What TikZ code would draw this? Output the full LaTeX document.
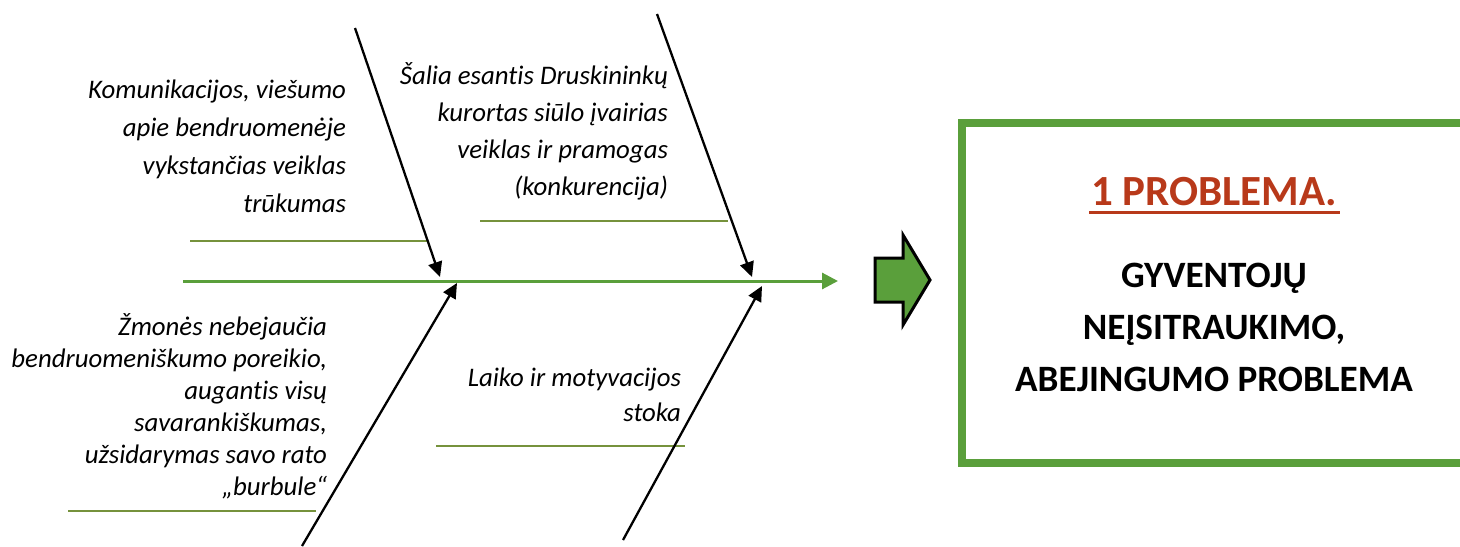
\documentclass[tikz,border=0pt]{standalone}
\usepackage{fontspec}
\setmainfont{Carlito}[Ligatures=NoCommon]
\usetikzlibrary{arrows.meta}
\usetikzlibrary{positioning}
\usetikzlibrary{calc}
\definecolor{spinegreen}{HTML}{5A9F3B}
\definecolor{rulegreen}{HTML}{76923C}
\definecolor{titlered}{HTML}{B8391A}
\newcommand{\causenode}[4]{\node(#1)[cause, font=\fontsize{13.4}{#2}\selectfont\itshape] at (#3) {#4}}
\newcommand{\causerule}[3]{\draw[rule] (#2,#1) -- (#3,#1)}

\begin{document}
\begin{tikzpicture}[
        x=0.5pt, y=-0.5pt,
        every node/.style={inner sep=0pt, outer sep=0pt},
        cause/.style={anchor=north east, align=right},
        bone/.style={draw=black, line width=1.15pt, -{Triangle[length=7.5pt,width=7pt]}},
        spine/.style={draw=spinegreen, line width=1.5pt, -{Triangle[length=8pt,width=8pt]}},
        rule/.style={draw=rulegreen, line width=0.7pt},
        bigarrow/.style={draw=black, fill=spinegreen, line width=1.5pt, line join=miter},
        problem/.style={rectangle, draw=spinegreen, line width=4pt,
                        minimum width=270pt, minimum height=170pt}
      ]
      \useasboundingbox (0,0) rectangle (1460,546);

      % causes
      \causenode{comm}{19}{346,80}{Komunikacijos, viešumo\\apie bendruomenėje\\vykstančias veiklas\\trūkumas};
      \causenode{resort}{18.5}{668,63}{Šalia esantis Druskininkų\\kurortas siūlo įvairias\\veiklas ir pramogas\\(konkurencija)};
      \causenode{people}{16}{327,314}{Žmonės nebejaučia\\bendruomeniškumo poreikio,\\augantis visų\\savarankiškumas,\\užsidarymas savo rato\\„burbule“};
      \causenode{time}{17.5}{681,368}{Laiko ir motyvacijos\\stoka};

      \causerule{241}{190}{428};
      \causerule{221}{480}{728};
      \causerule{511}{68}{316};
      \causerule{446}{436}{685};

      % fish bones
      \coordinate (tail) at (183,281);
      \coordinate (head) at (838,281);
      \coordinate (tl0) at (355,28);  \coordinate (tl1) at (440,277);
      \coordinate (tr0) at (657,14);  \coordinate (tr1) at (752,277);
      \coordinate (bl0) at (302,546); \coordinate (bl1) at (457,283);
      \coordinate (br0) at (623,540); \coordinate (br1) at (762,286);

      \path (tail) edge[spine] (head)
            (tl0) edge[bone] (tl1)
            (tr0) edge[bone] (tr1)
            (bl0) edge[bone] (bl1)
            (br0) edge[bone] (br1);

      % result (box runs past the right edge)
      \draw[bigarrow] (875,258) -- (903,258) -- (903,235) -- (930,280) -- (903,325) -- (903,302) -- (875,302) -- cycle;
      \node(box)[problem, anchor=west] at (962,293) {};
      \node(title)[anchor=base, text=titlered, font=\fontsize{21.5}{25}\selectfont\bfseries] at (1214,205) {1 PROBLEMA.};
      \draw[titlered, line width=1.5pt] ($(title.base west)+(-2,7)$) -- ($(title.base east)+(3,7)$);
      \node(name)[anchor=north, align=center, font=\fontsize{18.6}{26}\selectfont\bfseries] at (1214,263)
        {GYVENTOJŲ\\NEĮSITRAUKIMO,\\ABEJINGUMO PROBLEMA};
\end{tikzpicture}
\end{document}
